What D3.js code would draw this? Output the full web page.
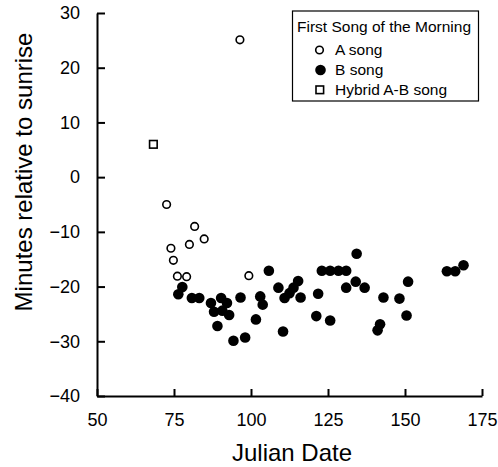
<!DOCTYPE html>
<html>
<head>
<meta charset="utf-8">
<script src="https://cdn.jsdelivr.net/npm/d3@7"></script>
<style>
  body { margin: 0; background: #fff; }
  text { font-family: "Liberation Sans", Arial, sans-serif; fill: #000; }
</style>
</head>
<body>
<div id="chart"></div>
<script>
// first song of the morning, julian date vs minutes relative to sunrise
var aSong = [
    [96.4, 25.1], [72.6, -5.0], [74.0, -13.0], [74.8, -15.2], [76.1, -18.1],
    [79.1, -18.2], [80.0, -12.3], [81.7, -9.0], [84.8, -11.3], [99.3, -18.0]
];

var bSong = [
    [76.4, -21.4], [77.7, -20.1], [80.8, -22.1], [83.2, -22.1], [87.0, -23.0],
    [88.0, -24.6], [90.3, -22.1], [92.2, -23.0], [90.7, -24.4], [92.9, -25.2],
    [89.1, -27.2], [94.3, -29.9], [98.1, -29.3], [96.6, -22.0], [101.6, -26.0],
    [103.0, -21.8], [103.8, -23.3], [105.8, -17.1], [108.9, -20.2], [110.9, -22.1],
    [112.5, -21.2], [113.8, -20.2], [115.3, -19.0], [116.1, -22.0], [110.4, -28.2],
    [121.2, -25.4], [121.8, -21.3], [125.7, -26.2], [123.0, -17.1], [125.7, -17.1],
    [128.4, -17.1], [130.9, -17.1], [130.9, -20.2], [134.0, -19.1], [134.3, -14.0],
    [136.9, -20.2], [143.0, -22.0], [148.2, -22.2], [151.0, -19.1], [150.5, -25.3],
    [141.1, -28.0], [141.9, -26.9], [163.6, -17.2], [166.3, -17.2], [169.0, -16.1]
];

var hybrid = [[68.3, 6.0]];

var xTicks = [50, 75, 100, 125, 150, 175];
var yTicks = [-40, -30, -20, -10, 0, 10, 20, 30];

var legendItems = ["A song", "B song", "Hybrid A-B song"];

var width = 498, height = 467;

var svg = d3.select("#chart").append("svg")
    .attr("width", width)
    .attr("height", height);

var x = d3.scaleLinear().domain([50, 175]).range([97, 482]);
var y = d3.scaleLinear().domain([-40, 30]).range([396, 13]);

// axes, ticks point inward
var xAxis = d3.axisBottom(x).tickValues(xTicks).tickSizeInner(-7).tickSizeOuter(0).tickPadding(17);
var yAxis = d3.axisLeft(y).tickValues(yTicks).tickSizeInner(-8).tickSizeOuter(0).tickPadding(17);

var gx = svg.append("g").attr("transform", "translate(0,396)").call(xAxis);
var gy = svg.append("g").attr("transform", "translate(97,0)").call(yAxis);

[gx, gy].forEach(function (g) {
    g.selectAll("path, line").attr("stroke", "#000").attr("stroke-width", 2);
    g.selectAll("text").style("font-size", "18px").attr("fill", "#000");
});

svg.append("text")
    .attr("x", 292)
    .attr("y", 461)
    .attr("text-anchor", "middle")
    .style("font-size", "24px")
    .text("Julian Date");

svg.append("text")
    .attr("transform", "translate(32,172) rotate(-90)")
    .attr("text-anchor", "middle")
    .style("font-size", "24px")
    .text("Minutes relative to sunrise");

// points
svg.append("g").selectAll("circle")
    .data(bSong)
    .enter().append("circle")
    .attr("cx", function (d) { return x(d[0]); })
    .attr("cy", function (d) { return y(d[1]); })
    .attr("r", 5.3)
    .attr("fill", "#000");

svg.append("g").selectAll("circle")
    .data(aSong)
    .enter().append("circle")
    .attr("cx", function (d) { return x(d[0]); })
    .attr("cy", function (d) { return y(d[1]); })
    .attr("r", 3.8)
    .attr("fill", "#fff")
    .attr("stroke", "#000")
    .attr("stroke-width", 1.6);

svg.append("g").selectAll("rect")
    .data(hybrid)
    .enter().append("rect")
    .attr("x", function (d) { return x(d[0]) - 3.8; })
    .attr("y", function (d) { return y(d[1]) - 3.8; })
    .attr("width", 7.6)
    .attr("height", 7.6)
    .attr("fill", "#fff")
    .attr("stroke", "#000")
    .attr("stroke-width", 1.6);

// legend
var legend = svg.append("g");

legend.append("rect")
    .attr("x", 292.5)
    .attr("y", 11)
    .attr("width", 186)
    .attr("height", 90)
    .attr("fill", "#fff")
    .attr("stroke", "#000")
    .attr("stroke-width", 1.2);

legend.append("text")
    .attr("x", 297)
    .attr("y", 31.5)
    .style("font-size", "15.5px")
    .text("First Song of the Morning");

legendItems.forEach(function (label, i) {
    var ly = 55 + i * 20;
    if (i == 0) {
        legend.append("circle").attr("cx", 319.5).attr("cy", ly - 5)
            .attr("r", 3.8).attr("fill", "#fff").attr("stroke", "#000").attr("stroke-width", 1.6);
    } else if (i == 1) {
        legend.append("circle").attr("cx", 320.5).attr("cy", ly - 5)
            .attr("r", 5.3).attr("fill", "#000");
    } else {
        legend.append("rect").attr("x", 316).attr("y", ly - 9)
            .attr("width", 7.6).attr("height", 7.6)
            .attr("fill", "#fff").attr("stroke", "#000").attr("stroke-width", 1.6);
    }
    legend.append("text")
        .attr("x", 335)
        .attr("y", ly)
        .style("font-size", "15.5px")
        .text(label);
});
</script>
</body>
</html>
